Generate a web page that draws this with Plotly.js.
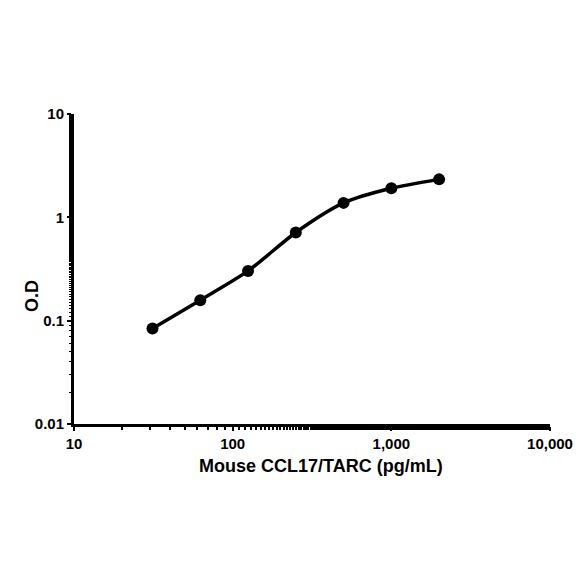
<!DOCTYPE html>
<html>
<head>
<meta charset="utf-8">
<script src="https://cdn.plot.ly/plotly-3.0.1.min.js"></script>
<style>
  body { margin: 0; background: #fff; }
  #myDiv { width: 584px; height: 584px; }
</style>
</head>
<body>
<div id="myDiv"></div>
<script>
// standard curve: concentration (pg/mL) vs O.D
var concentration = [31.25, 62.5, 125, 250, 500, 1000, 2000];
var od = [0.084, 0.158, 0.303, 0.714, 1.38, 1.91, 2.33];

var xTickVals = [10, 100, 1000, 10000];
var xTickText = ['10', '100', '1,000', '10,000'];
var yTickVals = [0.01, 0.1, 1, 10];
var yTickText = ['0.01', '0.1', '1', '10'];

var xTitle = 'Mouse CCL17/TARC (pg/mL)';
var yTitle = 'O.D';

function Draw() {
  var curve = {
    x: concentration,
    y: od,
    type: 'scatter',
    mode: 'lines+markers',
    line: { color: '#000', width: 3.5, shape: 'spline', smoothing: 0.8 },
    marker: { color: '#000', size: 12 },
    showlegend: false
  };

  var tickFont = { family: 'Liberation Sans, Arial, sans-serif', size: 15, color: '#000', weight: 'bold' };
  var titleFont = { family: 'Liberation Sans, Arial, sans-serif', size: 18, color: '#000', weight: 'bold' };

  var layout = {
    width: 584,
    height: 584,
    margin: { l: 74, r: 34, t: 114, b: 160 },
    paper_bgcolor: '#fff',
    plot_bgcolor: '#fff',
    xaxis: {
      type: 'log',
      range: [1, 4],
      tickvals: xTickVals,
      ticktext: xTickText,
      tickfont: tickFont,
      ticks: 'outside',
      ticklen: 4,
      tickwidth: 2,
      tickcolor: '#000',
      showline: true,
      linecolor: '#000',
      linewidth: 3,
      showgrid: false,
      zeroline: false,
      minor: { ticks: 'outside', ticklen: 3, tickwidth: 2, tickcolor: '#000', showgrid: false }
    },
    yaxis: {
      type: 'log',
      range: [-2, 1],
      tickvals: yTickVals,
      ticktext: yTickText,
      tickfont: tickFont,
      ticks: 'outside',
      ticklen: 4,
      tickwidth: 2,
      tickcolor: '#000',
      showline: true,
      linecolor: '#000',
      linewidth: 3,
      showgrid: false,
      zeroline: false,
      minor: { ticks: 'outside', ticklen: 2, tickwidth: 1, tickcolor: '#000', showgrid: false }
    },
    annotations: [
      {
        text: xTitle, font: titleFont, showarrow: false,
        xref: 'paper', yref: 'paper', x: 0.519, y: 0,
        xanchor: 'center', yanchor: 'middle', yshift: -42
      },
      {
        text: yTitle, font: titleFont, showarrow: false, textangle: -90,
        xref: 'paper', yref: 'paper', x: 0, y: 0.413,
        xanchor: 'center', yanchor: 'middle', xshift: -42
      }
    ]
  };

  Plotly.newPlot('myDiv', [curve], layout, { displayModeBar: false, staticPlot: true });
}

Draw();
</script>
</body>
</html>
